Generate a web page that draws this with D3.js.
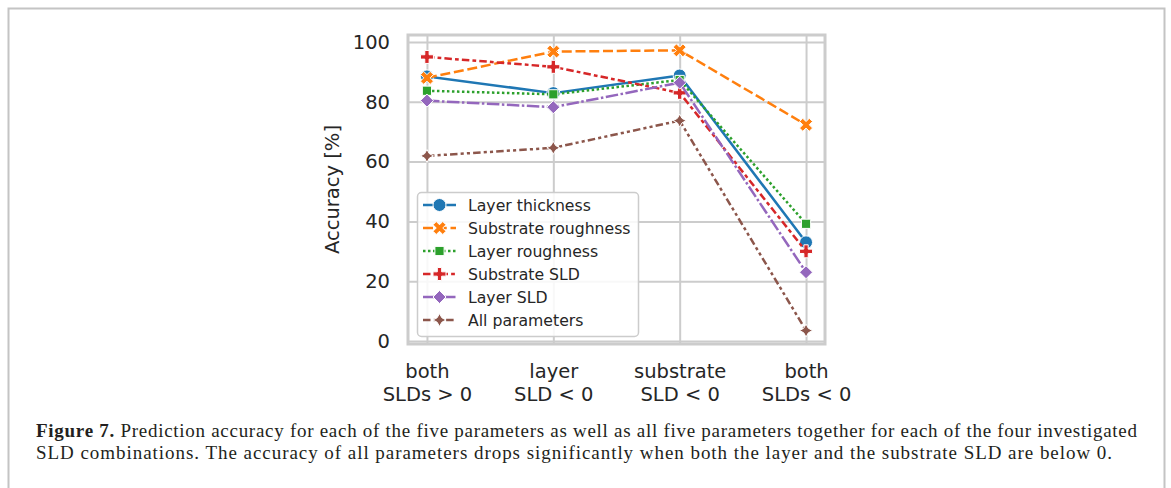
<!DOCTYPE html>
<html>
<head>
<meta charset="utf-8">
<script src="https://cdn.jsdelivr.net/npm/d3@7/dist/d3.min.js"></script>
<style>
  html, body { margin: 0; padding: 0; background: #fff; }
  svg { display: block; }
</style>
</head>
<body>
<svg id="fig" width="1171" height="488"></svg>
<script>
// SLD combinations on the x axis (two-line labels)
const categories = ["both\nSLDs > 0", "layer\nSLD < 0", "substrate\nSLD < 0", "both\nSLDs < 0"];

// Prediction accuracy [%] per parameter
const layerThickness     = [88.5, 82.9, 88.8, 33.0];
const substrateRoughness = [88.0, 96.8, 97.2, 72.3];
const layerRoughness     = [83.7, 82.5, 87.3, 39.2];
const substrateSLD       = [95.0, 91.7, 83.0, 30.0];
const layerSLD           = [80.4, 78.2, 86.4, 23.0];
const allParameters      = [61.9, 64.6, 73.7, 3.5];

const seriesNames = ["Layer thickness", "Substrate roughness", "Layer roughness",
                     "Substrate SLD", "Layer SLD", "All parameters"];
const seriesValues = [layerThickness, substrateRoughness, layerRoughness,
                      substrateSLD, layerSLD, allParameters];
const yTicks = [0, 20, 40, 60, 80, 100];

const colors = ["#1f77b4", "#ff7f0e", "#2ca02c", "#d62728", "#9467bd", "#8c564b"];
const lw = 2.5;
// dash patterns in units of line width
const dashUnits = [null, [4, 1.5], [1, 1], [3, 1.25, 1.5, 1.25], [5, 1, 1, 1],
                   [3, 1.25, 1.25, 1.25, 1.25, 1.25]];
const markerKinds = ["circle", "x", "square", "plus", "diamond", "star"];
const msize = 13;

const svg = d3.select("#fig");
const textColor = "#262626";

// outer figure frame
svg.append("path")
  .attr("d", "M8.5,490 V8.5 H1164.5 V490")
  .attr("fill", "none").attr("stroke", "#c4c4c4").attr("stroke-width", 2);

const plot = { left: 408, right: 825, top: 35, bottom: 344 };

const x = d3.scaleLinear().domain([-0.15, 3.15]).range([plot.left, plot.right]);
const y = d3.scaleLinear().domain([-1.0, 102.34]).range([plot.bottom, plot.top]);

const g = svg.append("g");

// grid lines
g.append("g")
  .attr("transform", `translate(0,${plot.bottom})`)
  .call(d3.axisBottom(x).tickValues(d3.range(categories.length)).tickSize(-(plot.bottom - plot.top)).tickFormat(""))
  .call(a => a.select(".domain").remove())
  .call(a => a.selectAll("line").attr("stroke", "#cccccc").attr("stroke-width", 2));
g.append("g")
  .attr("transform", `translate(${plot.left},0)`)
  .call(d3.axisLeft(y).tickValues(yTicks).tickSize(-(plot.right - plot.left)).tickFormat(""))
  .call(a => a.select(".domain").remove())
  .call(a => a.selectAll("line").attr("stroke", "#cccccc").attr("stroke-width", 2));

// spines
g.append("rect")
  .attr("x", plot.left).attr("y", plot.top)
  .attr("width", plot.right - plot.left).attr("height", plot.bottom - plot.top)
  .attr("fill", "none").attr("stroke", "#cccccc").attr("stroke-width", 3);

// y tick labels
g.append("g")
  .attr("transform", `translate(${plot.left},0)`)
  .call(d3.axisLeft(y).tickValues(yTicks).tickSize(0).tickPadding(18))
  .call(a => a.select(".domain").remove())
  .call(a => a.selectAll("text")
    .attr("font-family", "DejaVu Sans").attr("font-size", 19.5).attr("fill", textColor));

// x tick labels (two lines each)
const xAxis = g.append("g")
  .attr("transform", `translate(0,${plot.bottom})`)
  .call(d3.axisBottom(x).tickValues(d3.range(categories.length)).tickSize(0).tickFormat(""))
  .call(a => a.select(".domain").remove());
xAxis.selectAll(".tick").each(function (d) {
  const t = d3.select(this).append("text")
    .attr("font-family", "DejaVu Sans").attr("font-size", 19.5)
    .attr("fill", textColor).attr("text-anchor", "middle");
  categories[d].split("\n").forEach((line, i) => {
    t.append("tspan").attr("x", 0).attr("y", 34 + i * 22.5).text(line);
  });
});

// y axis label
svg.append("text")
  .attr("transform", `translate(339,${(plot.top + plot.bottom) / 2}) rotate(-90)`)
  .attr("text-anchor", "middle")
  .attr("font-family", "DejaVu Sans").attr("font-size", 19.5).attr("fill", textColor)
  .text("Accuracy [%]");

// marker shapes, size s = nominal marker size in px
function markerPath(kind, s) {
  const h = s / 2;
  const poly = pts => "M" + pts.map(p => p.join(",")).join("L") + "Z";
  if (kind === "circle") {
    return `M${h},0A${h},${h} 0 1,1 ${-h},0A${h},${h} 0 1,1 ${h},0Z`;
  }
  if (kind === "x") {
    const p = [[-1, -2], [0, -1], [1, -2], [2, -1], [1, 0], [2, 1], [1, 2], [0, 1], [-1, 2], [-2, 1], [-1, 0], [-2, -1]];
    return poly(p.map(([a, b]) => [a / 4 * s, b / 4 * s]));
  }
  if (kind === "plus") {
    const p = [[-1, -3], [1, -3], [1, -1], [3, -1], [3, 1], [1, 1], [1, 3], [-1, 3], [-1, 1], [-3, 1], [-3, -1], [-1, -1]];
    return poly(p.map(([a, b]) => [a / 6 * s, b / 6 * s]));
  }
  if (kind === "square") {
    const a = h * Math.SQRT1_2;
    return poly([[-a, -a], [a, -a], [a, a], [-a, a]]);
  }
  if (kind === "diamond") {
    return poly([[0, -h], [h, 0], [0, h], [-h, 0]]);
  }
  if (kind === "star") {
    const pts = [];
    for (let i = 0; i < 8; i++) {
      const r = i % 2 === 0 ? h : h * 0.5;
      const ang = -Math.PI / 2 + i * Math.PI / 4;
      pts.push([r * Math.cos(ang), r * Math.sin(ang)]);
    }
    return poly(pts);
  }
}

const line = d3.line().x((d, i) => x(i)).y(d => y(d));

seriesValues.forEach((vals, k) => {
  const s = g.append("g");
  s.append("path")
    .datum(vals)
    .attr("d", line)
    .attr("fill", "none")
    .attr("stroke", colors[k])
    .attr("stroke-width", lw)
    .attr("stroke-linecap", dashUnits[k] ? "butt" : "square")
    .attr("stroke-linejoin", "round")
    .attr("stroke-dasharray", dashUnits[k] ? dashUnits[k].map(v => v * lw).join(",") : null);
  s.selectAll("path.mk")
    .data(vals)
    .join("path")
    .attr("class", "mk")
    .attr("transform", (d, i) => `translate(${x(i)},${y(d)})`)
    .attr("d", markerPath(markerKinds[k], msize))
    .attr("fill", colors[k])
    .attr("stroke", "#ffffff")
    .attr("stroke-width", 1);
});

// legend
const leg = svg.append("g");
leg.append("rect")
  .attr("x", 417.5).attr("y", 192.5).attr("width", 221).attr("height", 144)
  .attr("rx", 4).attr("ry", 4)
  .attr("fill", "#ffffff").attr("fill-opacity", 0.85)
  .attr("stroke", "#cccccc").attr("stroke-width", 1.5);
seriesNames.forEach((name, k) => {
  const cy = 205 + k * 23;
  leg.append("line")
    .attr("x1", 423).attr("x2", 456).attr("y1", cy).attr("y2", cy)
    .attr("stroke", colors[k]).attr("stroke-width", lw)
    .attr("stroke-dasharray", dashUnits[k] ? dashUnits[k].map(v => v * lw).join(",") : null);
  leg.append("path")
    .attr("transform", `translate(439.5,${cy})`)
    .attr("d", markerPath(markerKinds[k], msize))
    .attr("fill", colors[k]).attr("stroke", "#ffffff").attr("stroke-width", 1);
  leg.append("text")
    .attr("x", 468).attr("y", cy).attr("dy", "0.36em")
    .attr("font-family", "DejaVu Sans").attr("font-size", 15.7).attr("fill", textColor)
    .text(name);
});

// caption
const cap = svg.append("g")
  .attr("font-family", "Liberation Serif, serif").attr("font-size", 19).attr("fill", "#231f20");
const l1 = cap.append("text").attr("x", 36).attr("y", 437)
  .attr("textLength", 1101).attr("lengthAdjust", "spacing");
l1.append("tspan").attr("font-weight", "bold").text("Figure 7.");
l1.append("tspan").text(" Prediction accuracy for each of the five parameters as well as all five parameters together for each of the four investigated");
cap.append("text").attr("x", 36).attr("y", 459)
  .attr("textLength", 1076).attr("lengthAdjust", "spacing")
  .text("SLD combinations. The accuracy of all parameters drops significantly when both the layer and the substrate SLD are below 0.");
</script>
</body>
</html>
